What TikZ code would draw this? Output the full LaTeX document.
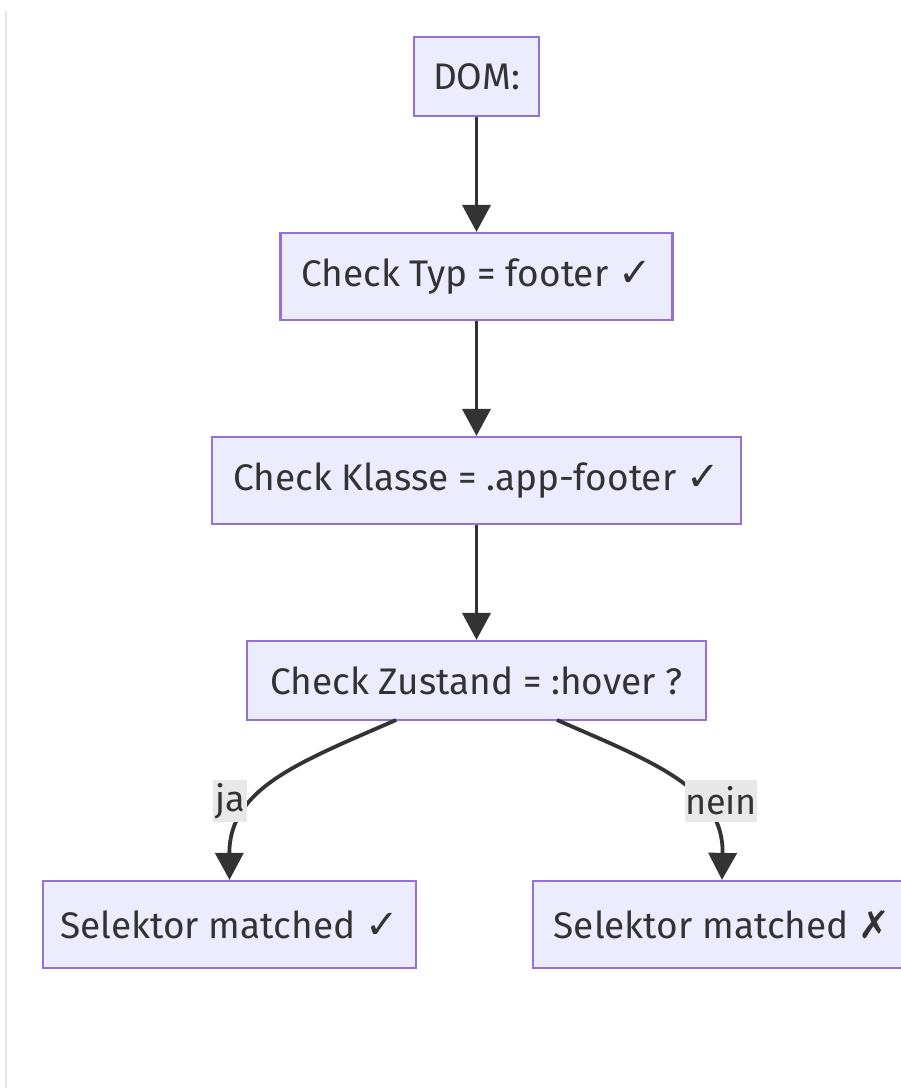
\documentclass[tikz,border=0pt]{standalone}
\usepackage{fontspec}
\setmainfont{Fira Sans}
\newfontfamily\symfont{DejaVu Sans}
\usetikzlibrary{arrows.meta}
\definecolor{nodefill}{HTML}{ECECFF}
\definecolor{nodeborder}{HTML}{9370DB}
\definecolor{ink}{HTML}{333333}
\definecolor{lblbg}{HTML}{E8E8E8}
\definecolor{sideline}{HTML}{E6E6E6}
\newcommand{\chk}{{\symfont\fontsize{40}{40}\selectfont ✓}}
\newcommand{\crs}{{\symfont\fontsize{38}{40}\selectfont ✗}}
\tikzset{
  box/.style={draw=nodeborder, fill=nodefill, line width=2.2pt, inner sep=0pt,
    text=ink, font=\fontsize{37}{44}\selectfont, anchor=center},
  conn/.style={draw=ink, line width=3.8pt, -{Triangle[length=27pt,width=28pt]}},
  edgelbl/.style={fill=lblbg, text=ink, inner sep=0pt, minimum height=42pt,
    font=\fontsize{36}{42}\selectfont}
}
\begin{document}
\begin{tikzpicture}[x=1pt,y=-1pt]
\useasboundingbox (0,0) rectangle (901,1088);
\clip (0,0) rectangle (901,1088);
\fill[white] (0,0) rectangle (901,1088);
\draw[sideline, line width=2pt] (6,11) -- (6,1088);

\node[box, minimum width=125pt, minimum height=79pt] (dom) at (476.5,76.5) {DOM:};
\node[box, minimum width=392pt, minimum height=87pt] (typ) at (476.5,276.5) {Check Typ = footer \chk};
\node[box, minimum width=529pt, minimum height=87pt] (kls) at (476.5,480.5) {Check Klasse = .app-footer \chk};
\node[box, minimum width=459pt, minimum height=79pt] (zst) at (476.5,680.5) {Check Zustand = :hover ?};
\node[box, minimum width=373pt, minimum height=87pt] (yes) at (229.5,924.5) {Selektor matched \chk};
\node[box, minimum width=378pt, minimum height=87pt] (no) at (722,924.5) {Selektor matched \crs};

\draw[conn] (dom.south) -- (typ.north);
\draw[conn] (typ.south) -- (kls.north);
\draw[conn] (kls.south) -- (zst.north);

\coordinate (ys) at (396,720);
\coordinate (ns) at (557,720);
\draw[conn] (ys) .. controls (300,762) and (229,788) .. (yes.north);
\draw[conn] (ns) .. controls (653,762) and (724,788) .. (no.north);
\node[edgelbl, minimum width=34pt] (jal) at (230,801) {ja};
\node[edgelbl, minimum width=72pt] (neinl) at (721,801) {nein};
\end{tikzpicture}
\end{document}
